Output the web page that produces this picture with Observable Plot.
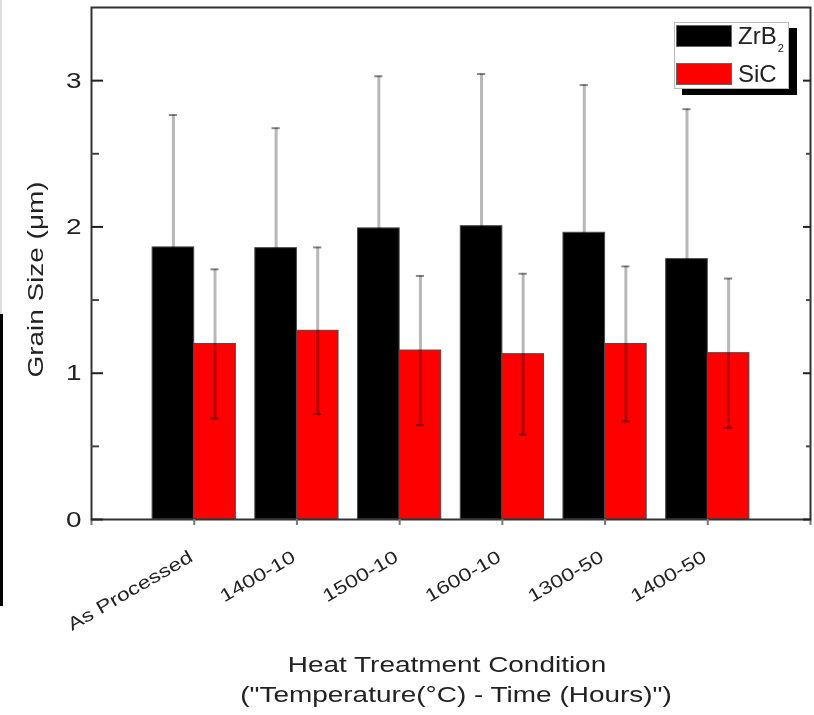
<!DOCTYPE html>
<html>
<head>
<meta charset="utf-8">
<script src="https://cdn.jsdelivr.net/npm/d3@7"></script>
<script src="https://cdn.jsdelivr.net/npm/@observablehq/plot@0.6"></script>
<style>
html, body { margin: 0; padding: 0; background: #fff; }
#wrap { position: relative; width: 814px; height: 715px; overflow: hidden; font-family: 'Liberation Sans', Arial, sans-serif; }
#wrap svg { position: absolute; left: 0; top: 0; }
.edge1 { position: absolute; left: 0; top: 0; width: 2px; height: 314px; background: #ddd; }
.edge2 { position: absolute; left: 0; top: 314px; width: 3px; height: 292px; background: #000; }
#legend { position: absolute; left: 674px; top: 22px; width: 113px; height: 65px; border: 1px solid #bbb; background: #fff; box-shadow: 8px 6px 0 #000; }
.row { position: absolute; left: 1px; height: 21px; width: 110px; }
.sw { position: absolute; left: 0; top: 0; width: 54px; height: 20px; border: 1px solid #666; }
.lab { position: absolute; left: 62px; top: -1px; font-size: 24px; line-height: 24px; color: #222; white-space: nowrap; }
.sub { font-size: 11px; position: relative; top: 8px; margin-left: 1px; }
</style>
</head>
<body>
<div id="wrap">
  <div class="edge1"></div>
  <div class="edge2"></div>
</div>
<script>
// ---- data ----
const conditions = ["As Processed", "1400-10", "1500-10", "1600-10", "1300-50", "1400-50"];
const zrb2Mean = [1.86, 1.855, 1.99, 2.005, 1.96, 1.78];
const zrb2Err  = [0.905, 0.82, 1.04, 1.04, 1.01, 1.025];
const sicMean  = [1.20, 1.29, 1.155, 1.13, 1.20, 1.137];
const sicErr   = [0.51, 0.57, 0.51, 0.55, 0.53, 0.51];
const seriesNames = ["ZrB2", "SiC"];
const seriesLabels = ["ZrB<span class=\"sub\">2</span>", "SiC"];
const seriesColors = ["#000000", "#ff0000"];
const yTicks = [0, 1, 2, 3];
const yTickLabels = ["0", "1", "2", "3"];
const yMinorTicks = [0.5, 1.5, 2.5];
const yTitle = "Grain Size (\u03bcm)";
const xTitle = ["Heat Treatment Condition", "(\"Temperature(\u00b0C) - Time (Hours)\")"];

// ---- table ----
const rows = [];
conditions.forEach((c, k) => {
  rows.push({i: k + 1, s: seriesNames[0], side: -1, m: zrb2Mean[k], e: zrb2Err[k]});
  rows.push({i: k + 1, s: seriesNames[1], side: 1, m: sicMean[k], e: sicErr[k]});
});
const W = 0.405;
const left = d => d.side < 0 ? d.i - W : d.i;
const right = d => d.side < 0 ? d.i : d.i + W;
const center = d => d.i + d.side * W / 2;
const capW = 0.04;
const font = "'Liberation Sans', Arial, sans-serif";

const chart = Plot.plot({
  width: 814,
  height: 715,
  marginLeft: 91,
  marginRight: 4,
  marginTop: 7,
  marginBottom: 196,
  style: {fontFamily: font, color: "#222", background: "transparent"},
  x: {domain: [0, conditions.length + 1]},
  y: {domain: [0, 3.5]},
  color: {domain: seriesNames, range: seriesColors},
  marks: [
    Plot.rectY(rows, {x1: left, x2: right, y: "m", fill: "s", stroke: "#4a4a4a", strokeWidth: 1}),
    Plot.ruleX(rows, {x: center, y1: d => d.m - d.e, y2: d => d.m + d.e, stroke: "#b8b8b8", strokeWidth: 3, mixBlendMode: "multiply"}),
    Plot.ruleY(rows, {y: d => d.m + d.e, x1: d => center(d) - capW, x2: d => center(d) + capW, stroke: "#8a8a8a", strokeWidth: 2, mixBlendMode: "multiply"}),
    Plot.ruleY(rows, {y: d => d.m - d.e, x1: d => center(d) - capW, x2: d => center(d) + capW, stroke: "#8a8a8a", strokeWidth: 2, mixBlendMode: "multiply"}),
    Plot.frame({stroke: "#333", strokeWidth: 2}),
    // x ticks (outward)
    Plot.axisX({ticks: d3.range(0, conditions.length + 2), tickFormat: () => "", tickSize: 6, stroke: "#777", strokeWidth: 2, label: null}),
    // x tick labels
    Plot.axisX({ticks: d3.range(1, conditions.length + 1), tickFormat: i => conditions[i - 1], tickSize: 0, tickPadding: 36, tickRotate: -30, fontSize: 18, dx: -3, label: null}),
    // y labels
    Plot.axisY({ticks: yTicks, tickFormat: (d, k) => yTickLabels[k], tickSize: 0, tickPadding: 10, fontSize: 22, label: null}),
    // y inward ticks left
    Plot.axisY({anchor: "left", ticks: yTicks, tickSize: -12, tickFormat: () => "", stroke: "#222", strokeWidth: 2, label: null}),
    Plot.axisY({anchor: "left", ticks: yMinorTicks, tickSize: -8, tickFormat: () => "", stroke: "#444", strokeWidth: 2, label: null}),
    // y inward ticks right
    Plot.axisY({anchor: "right", ticks: yTicks, tickSize: -8, tickFormat: () => "", stroke: "#222", strokeWidth: 2, label: null}),
    Plot.axisY({anchor: "right", ticks: yMinorTicks, tickSize: -5, tickFormat: () => "", stroke: "#444", strokeWidth: 2, label: null}),
    // titles
    Plot.text([yTitle], {text: d => d, frameAnchor: "left", textAnchor: "middle", rotate: -90, lineAnchor: "bottom", dx: -49, dy: 16, fontSize: 22, fill: "#222"}),
    Plot.text([xTitle[0]], {text: d => d, frameAnchor: "bottom", textAnchor: "middle", lineAnchor: "bottom", dx: -4, dy: 152, fontSize: 22, fill: "#222"}),
    Plot.text([xTitle[1]], {text: d => d, frameAnchor: "bottom", textAnchor: "middle", lineAnchor: "bottom", dx: 5, dy: 182, fontSize: 22, fill: "#222"})
  ]
});

const wrap = document.getElementById("wrap");
wrap.insertBefore(chart, wrap.firstChild);

// widen glyphs like the reference's wide sans rendering
function stretch(svg, s) {
  svg.querySelectorAll("text").forEach(t => {
    const spans = t.querySelectorAll("tspan");
    const targets = spans.length ? Array.from(spans) : [t];
    targets.forEach(el => {
      const L = el.getComputedTextLength();
      if (L > 0) {
        el.setAttribute("textLength", (L * s).toFixed(2));
        el.setAttribute("lengthAdjust", "spacingAndGlyphs");
      }
    });
  });
}
stretch(chart, 1.27);

// legend
const legend = document.createElement("div");
legend.id = "legend";
seriesNames.forEach((name, k) => {
  const row = document.createElement("div");
  row.className = "row";
  row.style.top = (k === 0 ? 2 : 40) + "px";
  row.innerHTML = `<div class="sw" style="background:${seriesColors[k]}"></div><div class="lab">${seriesLabels[k]}</div>`;
  legend.appendChild(row);
});
wrap.appendChild(legend);
</script>
</body>
</html>
